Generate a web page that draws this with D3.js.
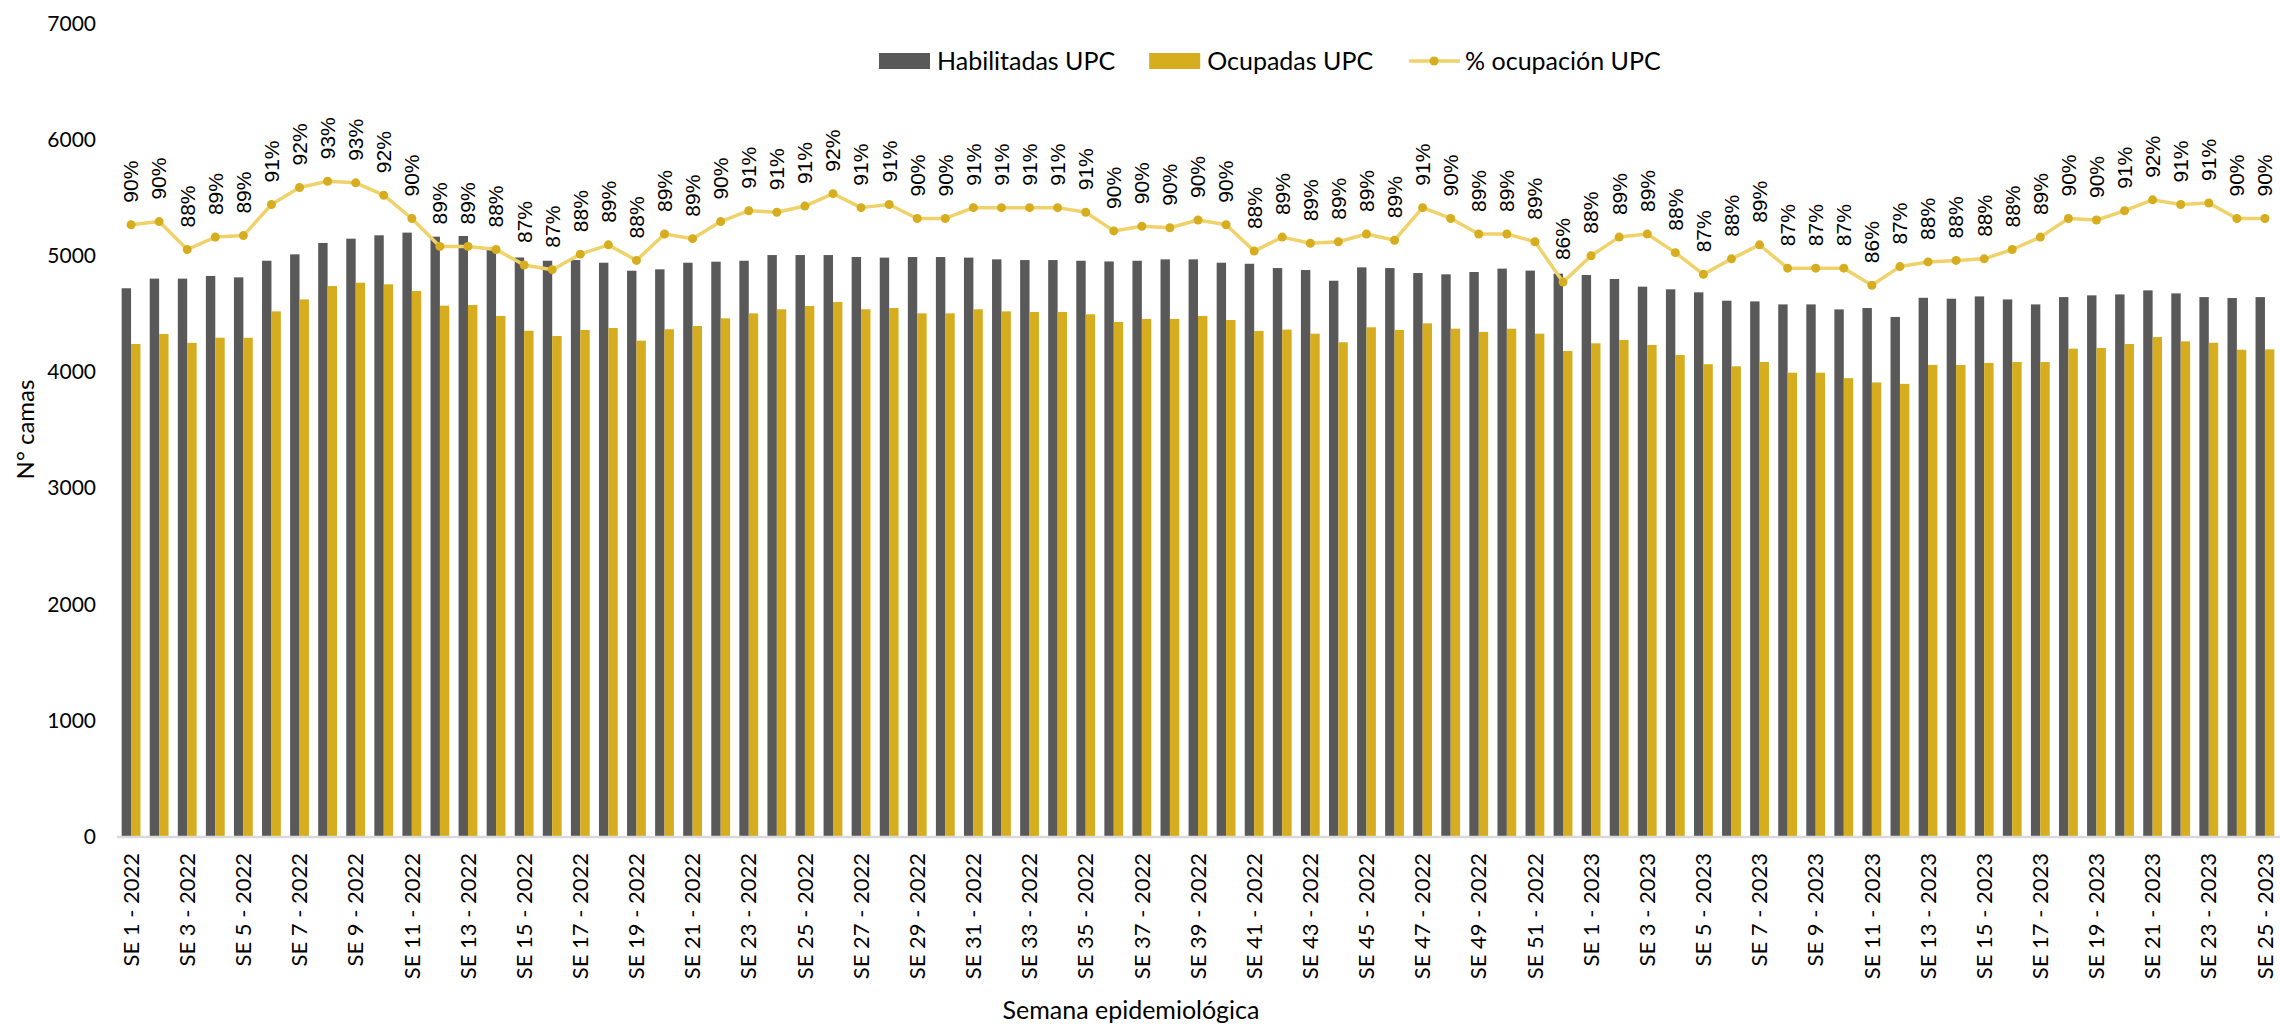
<!DOCTYPE html>
<html>
<head>
<meta charset="utf-8">
<script src="https://cdn.jsdelivr.net/npm/d3@7"></script>
<style>
    body { margin: 0; background: #fff; }
    svg { display: block; }
    .tick-label { font-family: Lato, "Open Sans", sans-serif; fill: #000; }
</style>
</head>
<body>
<svg id="chart" width="2280" height="1033"></svg>
<script>
// Semanas epidemiológicas (categorías)
const weeks = [
    "SE 1 - 2022", "SE 2 - 2022", "SE 3 - 2022", "SE 4 - 2022", "SE 5 - 2022", "SE 6 - 2022", "SE 7 - 2022",
    "SE 8 - 2022", "SE 9 - 2022", "SE 10 - 2022", "SE 11 - 2022", "SE 12 - 2022", "SE 13 - 2022", "SE 14 - 2022",
    "SE 15 - 2022", "SE 16 - 2022", "SE 17 - 2022", "SE 18 - 2022", "SE 19 - 2022", "SE 20 - 2022", "SE 21 - 2022",
    "SE 22 - 2022", "SE 23 - 2022", "SE 24 - 2022", "SE 25 - 2022", "SE 26 - 2022", "SE 27 - 2022", "SE 28 - 2022",
    "SE 29 - 2022", "SE 30 - 2022", "SE 31 - 2022", "SE 32 - 2022", "SE 33 - 2022", "SE 34 - 2022", "SE 35 - 2022",
    "SE 36 - 2022", "SE 37 - 2022", "SE 38 - 2022", "SE 39 - 2022", "SE 40 - 2022", "SE 41 - 2022", "SE 42 - 2022",
    "SE 43 - 2022", "SE 44 - 2022", "SE 45 - 2022", "SE 46 - 2022", "SE 47 - 2022", "SE 48 - 2022", "SE 49 - 2022",
    "SE 50 - 2022", "SE 51 - 2022", "SE 52 - 2022",
    "SE 1 - 2023", "SE 2 - 2023", "SE 3 - 2023", "SE 4 - 2023", "SE 5 - 2023", "SE 6 - 2023", "SE 7 - 2023",
    "SE 8 - 2023", "SE 9 - 2023", "SE 10 - 2023", "SE 11 - 2023", "SE 12 - 2023", "SE 13 - 2023", "SE 14 - 2023",
    "SE 15 - 2023", "SE 16 - 2023", "SE 17 - 2023", "SE 18 - 2023", "SE 19 - 2023", "SE 20 - 2023", "SE 21 - 2023",
    "SE 22 - 2023", "SE 23 - 2023", "SE 24 - 2023", "SE 25 - 2023"
];

// Camas UPC habilitadas
const habilitadas = [
    4716, 4799, 4799, 4822, 4810, 4953, 5008, 5106, 5143, 5172,
    5195, 5160, 5166, 5068, 4981, 4953, 4959, 4936, 4867, 4879,
    4936, 4945, 4953, 5002, 5002, 5002, 4985, 4980, 4985, 4985,
    4980, 4965, 4959, 4959, 4953, 4947, 4953, 4965, 4965, 4936,
    4927, 4890, 4873, 4781, 4896, 4890, 4847, 4836, 4856, 4885,
    4868, 4842, 4830, 4796, 4730, 4707, 4681, 4609, 4603, 4577,
    4577, 4534, 4546, 4469, 4634, 4626, 4646, 4620, 4577, 4640,
    4655, 4663, 4698, 4672, 4640, 4632, 4640
];

// Camas UPC ocupadas
const ocupadas = [
    4236, 4322, 4246, 4290, 4290, 4517, 4620, 4735, 4764, 4750,
    4692, 4566, 4572, 4477, 4350, 4305, 4357, 4374, 4265, 4363,
    4391, 4457, 4500, 4535, 4563, 4598, 4535, 4546, 4500, 4500,
    4535, 4517, 4512, 4512, 4492, 4426, 4452, 4452, 4477, 4443,
    4348, 4360, 4325, 4251, 4380, 4357, 4414, 4368, 4340, 4368,
    4325, 4176, 4242, 4271, 4228, 4142, 4062, 4044, 4081, 3989,
    3989, 3942, 3905, 3893, 4056, 4056, 4073, 4081, 4081, 4196,
    4202, 4236, 4296, 4259, 4247, 4187, 4190
];

// % ocupación UPC (eje secundario, oculto)
const ocupacion = [
    0.900, 0.902, 0.884, 0.892, 0.893, 0.913, 0.924, 0.928, 0.927, 0.919,
    0.904, 0.886, 0.886, 0.884, 0.874, 0.871, 0.881, 0.887, 0.877, 0.894,
    0.891, 0.902, 0.909, 0.908, 0.912, 0.920, 0.911, 0.913, 0.904, 0.904,
    0.911, 0.911, 0.911, 0.911, 0.908, 0.896, 0.899, 0.898, 0.903, 0.900,
    0.883, 0.892, 0.888, 0.889, 0.894, 0.890, 0.911, 0.904, 0.894, 0.894,
    0.889, 0.863, 0.880, 0.892, 0.894, 0.882, 0.868, 0.878, 0.887, 0.872,
    0.872, 0.872, 0.861, 0.873, 0.876, 0.877, 0.878, 0.884, 0.892, 0.904,
    0.903, 0.909, 0.916, 0.913, 0.914, 0.904, 0.904
];

const yTicks = [0, 1000, 2000, 3000, 4000, 5000, 6000, 7000];

const colorHab = "#595959";
const colorOcu = "#D5AD1E";
const colorLine = "#EFD26A";

const margin = {left: 118, right: 2, top: 23, bottom: 836};

const svg = d3.select("#chart");

const x = d3.scaleBand()
    .domain(weeks)
    .range([margin.left, 2280 - margin.right])
    .paddingInner(0.33)
    .paddingOuter(0.13);

const y = d3.scaleLinear().domain([0, 7000]).range([margin.bottom, margin.top]);
const y2 = d3.scaleLinear().domain([0.506, 1.03]).range([margin.bottom, margin.top]);

const sub = d3.scaleBand()
    .domain(["hab", "ocu"])
    .range([0, x.bandwidth()]);

// Bars
const groups = svg.append("g")
    .selectAll("g")
    .data(weeks)
    .enter()
    .append("g")
    .attr("transform", d => `translate(${x(d)},0)`);

groups.append("rect")
    .attr("x", sub("hab"))
    .attr("width", sub.bandwidth())
    .attr("y", (d, i) => y(habilitadas[i]))
    .attr("height", (d, i) => y(0) - y(habilitadas[i]))
    .attr("fill", colorHab);

groups.append("rect")
    .attr("x", sub("ocu"))
    .attr("width", sub.bandwidth())
    .attr("y", (d, i) => y(ocupadas[i]))
    .attr("height", (d, i) => y(0) - y(ocupadas[i]))
    .attr("fill", colorOcu);

// Category axis line
svg.append("line")
    .attr("x1", margin.left - 1)
    .attr("x2", 2280)
    .attr("y1", y(0) + 1)
    .attr("y2", y(0) + 1)
    .attr("stroke", "#D9D9D9")
    .attr("stroke-width", 2.5);

// Y axis (labels only)
const yAxis = svg.append("g")
    .attr("transform", `translate(${margin.left - 22},0)`)
    .call(d3.axisLeft(y).tickValues(yTicks).tickSize(0).tickPadding(0).tickFormat(d3.format("d")));
yAxis.select(".domain").remove();
yAxis.selectAll("text")
    .attr("class", "tick-label")
    .style("font-size", "21px")
    .attr("dy", "0.35em");

// X axis labels (every other week)
const xAxis = svg.append("g")
    .attr("transform", `translate(0,${y(0)})`)
    .call(d3.axisBottom(x).tickValues(weeks.filter((d, i) => i % 2 === 0)).tickSize(0));
xAxis.select(".domain").remove();
xAxis.selectAll("text")
    .attr("class", "tick-label")
    .style("font-size", "22px")
    .attr("text-anchor", "end")
    .attr("transform", "rotate(-90)")
    .attr("x", -17)
    .attr("y", 0)
    .attr("dy", "0.35em");

// % ocupación line
const cx = i => x(weeks[i]) + x.bandwidth() / 2;

const line = d3.line()
    .x((d, i) => cx(i))
    .y(d => y2(d));

svg.append("path")
    .datum(ocupacion)
    .attr("fill", "none")
    .attr("stroke", colorLine)
    .attr("stroke-width", 3.5)
    .attr("stroke-linejoin", "round")
    .attr("d", line);

svg.append("g")
    .selectAll("circle")
    .data(ocupacion)
    .enter()
    .append("circle")
    .attr("cx", (d, i) => cx(i))
    .attr("cy", d => y2(d))
    .attr("r", 4.5)
    .attr("fill", colorOcu);

svg.append("g")
    .selectAll("text")
    .data(ocupacion)
    .enter()
    .append("text")
    .attr("transform", (d, i) => `translate(${cx(i)},${y2(d) - 22}) rotate(-90)`)
    .attr("dy", "0.35em")
    .style("font-family", "'Liberation Sans', Arial, sans-serif")
    .style("font-size", "21px")
    .style("fill", "#000")
    .text(d => d3.format(".0%")(d));

// Axis titles
svg.append("text")
    .attr("class", "tick-label")
    .attr("transform", `translate(26,${(margin.top + margin.bottom) / 2}) rotate(-90)`)
    .attr("text-anchor", "middle")
    .attr("dy", "0.35em")
    .style("font-size", "24px")
    .text("N° camas");

svg.append("text")
    .attr("class", "tick-label")
    .attr("x", 1131)
    .attr("y", 1010)
    .attr("text-anchor", "middle")
    .attr("dy", "0.35em")
    .style("font-size", "25px")
    .text("Semana epidemiológica");

// Legend
const legendItems = [
    {name: "Habilitadas UPC", type: "rect", color: colorHab},
    {name: "Ocupadas UPC", type: "rect", color: colorOcu},
    {name: "% ocupación UPC", type: "line", color: colorLine}
];

const legend = svg.append("g");
let lx = 879;
const ly = 61;
legendItems.forEach(item => {
    if (item.type === "rect") {
        legend.append("rect")
            .attr("x", lx)
            .attr("y", ly - 8)
            .attr("width", 51)
            .attr("height", 16)
            .attr("fill", item.color);
    } else {
        legend.append("line")
            .attr("x1", lx + 2)
            .attr("x2", lx + 53)
            .attr("y1", ly)
            .attr("y2", ly)
            .attr("stroke", item.color)
            .attr("stroke-width", 3.5);
        legend.append("circle")
            .attr("cx", lx + 27)
            .attr("cy", ly)
            .attr("r", 4.5)
            .attr("fill", colorOcu);
    }
    const t = legend.append("text")
        .attr("class", "tick-label")
        .attr("x", lx + 58)
        .attr("y", ly)
        .attr("dy", "0.35em")
        .style("font-size", "25px")
        .text(item.name);
    lx += 58 + t.node().getComputedTextLength() + 34;
});
</script>
</body>
</html>
